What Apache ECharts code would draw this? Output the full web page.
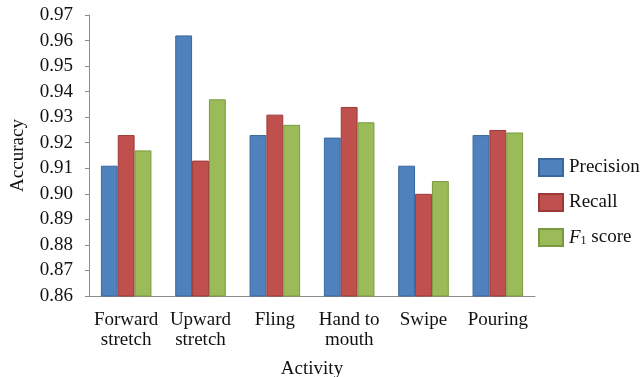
<!DOCTYPE html>
<html>
<head>
<meta charset="utf-8">
<script src="https://cdn.jsdelivr.net/npm/echarts@6/dist/echarts.min.js"></script>
<style>
  html, body { margin: 0; padding: 0; background: #fff; }
  #chart { width: 644px; height: 377px; }
</style>
</head>
<body>
<div id="chart"></div>
<script>
// Activities on the x axis
const activities = ['Forward\nstretch', 'Upward\nstretch', 'Fling', 'Hand to\nmouth', 'Swipe', 'Pouring'];

// Accuracy metrics per activity
const precision = [0.911, 0.962, 0.923, 0.922, 0.911, 0.923];
const recall    = [0.923, 0.913, 0.931, 0.934, 0.900, 0.925];
const f1Score   = [0.917, 0.937, 0.927, 0.928, 0.905, 0.924];

const yTicks = { min: 0.86, max: 0.97, step: 0.01 };

const FONT = 'Liberation Serif';
const chart = echarts.init(document.getElementById('chart'));

function barSeries(name, data, fill, edge) {
  return {
    name: name,
    type: 'bar',
    data: data,
    barGap: '0%',
    barCategoryGap: '32%',
    itemStyle: { color: fill, borderColor: edge, borderWidth: 1 },
    emphasis: { disabled: true }
  };
}

chart.setOption({
  animation: false,
  textStyle: { fontFamily: FONT, color: '#111' },
  grid: { left: 89, right: 109, top: 15, bottom: 81, containLabel: false, outerBoundsMode: 'none' },
  legend: {
    orient: 'vertical',
    left: 538,
    top: 158,
    padding: 0,
    icon: 'rect',
    itemWidth: 24,
    itemHeight: 17,
    itemGap: 16,
    textStyle: {
      fontFamily: FONT,
      fontSize: 19,
      lineHeight: 19,
      color: '#111',
      padding: [0, 0, 0, 1],
      rich: {
        it: { fontFamily: FONT, fontStyle: 'italic', fontSize: 19, color: '#111' },
        sub: { fontFamily: FONT, fontSize: 12, color: '#111', verticalAlign: 'bottom', padding: [8, 0, 0, 0] },
        n: { fontFamily: FONT, fontSize: 19, color: '#111' }
      }
    },
    formatter: function (name) {
      if (name === 'F1 score') return '{it|F}{sub|1}{n| score}';
      return name;
    },
    data: ['Precision', 'Recall', 'F1 score']
  },
  xAxis: {
    type: 'category',
    data: activities,
    name: 'Activity',
    nameLocation: 'middle',
    nameGap: 64,
    nameTextStyle: { fontFamily: FONT, fontSize: 19, color: '#111' },
    axisLine: { lineStyle: { color: '#8c8c8c', width: 1 } },
    axisTick: { show: false },
    axisLabel: { fontFamily: FONT, fontSize: 19, color: '#111', margin: 14, lineHeight: 20, interval: 0 }
  },
  yAxis: {
    type: 'value',
    min: yTicks.min,
    max: yTicks.max,
    interval: yTicks.step,
    name: 'Accuracy',
    nameLocation: 'middle',
    nameGap: 61,
    nameTextStyle: { fontFamily: FONT, fontSize: 19, color: '#111' },
    axisLine: { show: true, lineStyle: { color: '#8c8c8c', width: 1 } },
    axisTick: { show: true, length: 4, lineStyle: { color: '#8c8c8c' } },
    splitLine: { show: false },
    axisLabel: {
      fontFamily: FONT, fontSize: 19, color: '#111', margin: 16,
      formatter: function (v) { return v.toFixed(2); }
    }
  },
  series: [
    barSeries('Precision', precision, '#4F81BD', '#3A679C'),
    barSeries('Recall', recall, '#C0504D', '#9C3A38'),
    barSeries('F1 score', f1Score, '#9BBB59', '#7B9A40')
  ]
});
</script>
</body>
</html>
